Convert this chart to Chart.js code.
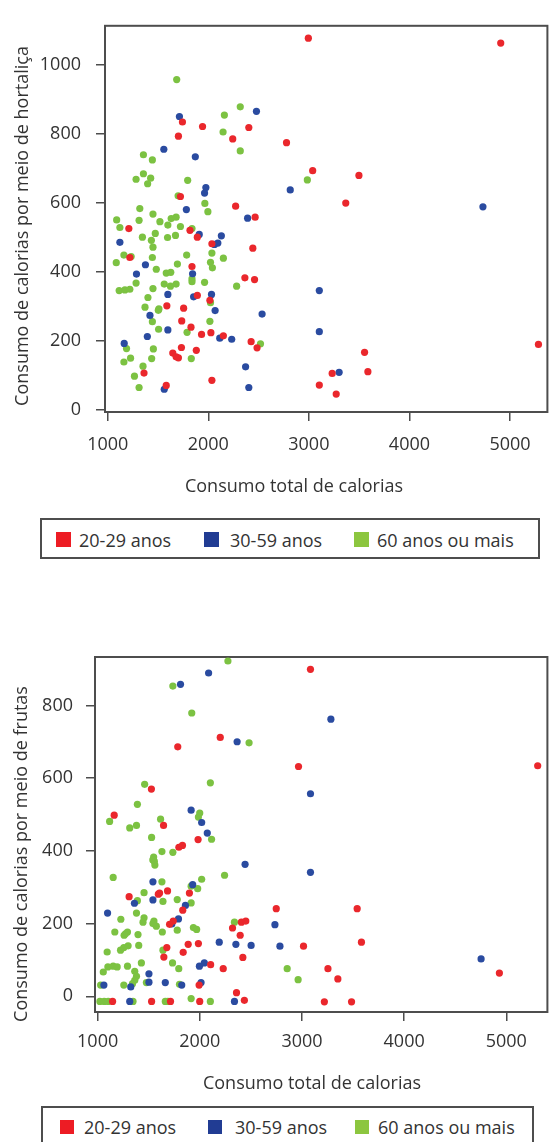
<!DOCTYPE html>
<html lang="pt">
<head>
<meta charset="utf-8">
<title>Consumo de calorias</title>
<script src="https://cdn.jsdelivr.net/npm/chart.js@4.4.1/dist/chart.umd.min.js"></script>
<style>
  html, body { margin: 0; padding: 0; background: #fff; }
  body {
    position: relative;
    width: 551px;
    height: 1142px;
    overflow: hidden;
    font-family: 'Open Sans', sans-serif;
    color: #333;
  }
  canvas { position: absolute; left: 0; }
  #hortChart { top: 0; }
  #frutChart { top: 600px; }
  .legend { position: absolute; border: 2px solid #4d4d4d; box-sizing: border-box; }
  .key { position: absolute; }
  .lbl { position: absolute; font-size: 18px; line-height: 22px; white-space: nowrap; }
</style>
</head>
<body>
<canvas id="hortChart" width="551" height="500"></canvas>
<canvas id="frutChart" width="551" height="500"></canvas>

<script>
// calorie consumption scatter plots (hortaliças / frutas) by age group

// AGE GROUPS
const categories = ['20-29 anos', '30-59 anos', '60 anos ou mais'];

// AXIS TICKS
const xTicks = [1000, 2000, 3000, 4000, 5000];
const yTicksHort = [0, 200, 400, 600, 800, 1000];
const yTicksFrut = [0, 200, 400, 600, 800];

// CHART 1 - HORTALIÇAS  [total calories, calories from vegetables]
const hortYoung = [
  [1743, 834], [1703, 793], [1943, 821], [2243, 785], [2403, 818], [1723, 618], [2272, 590], [2466, 558],
  [2995, 1077], [4908, 1063], [2778, 774], [3038, 693], [3498, 679], [3367, 599],
  [3554, 166], [3587, 110], [3232, 105], [3104, 71], [3272, 45], [5283, 189],
  [1210, 525], [1818, 520], [1891, 500], [2036, 481], [2443, 468], [1220, 441], [1838, 415], [1891, 331],
  [2016, 317], [2364, 382], [2460, 377], [1588, 301], [1755, 294], [1736, 257], [1828, 239], [1933, 218],
  [2026, 223], [2150, 214], [2426, 197], [2485, 179], [1647, 164], [1680, 153], [1703, 150], [1733, 180],
  [1881, 172], [1361, 106], [1582, 70], [2036, 85]
];
const hortAdult = [
  [1713, 850], [2479, 865], [1558, 755], [1871, 733], [1976, 644], [1963, 628], [1782, 580], [2391, 555],
  [2815, 637], [4731, 588], [3104, 345], [3104, 226], [3301, 108],
  [1910, 508], [2061, 479], [2095, 483], [2130, 504], [1121, 485], [1375, 420], [1844, 394], [1286, 393],
  [1598, 334], [1854, 327], [2032, 334], [2535, 277], [1420, 273], [2068, 287], [1598, 231], [2114, 207],
  [2233, 204], [1164, 192], [1394, 212], [1562, 59], [2371, 124], [2403, 64]
];
const hortSenior = [
  [1686, 957], [2160, 854], [2318, 878], [2147, 805], [2318, 750], [1355, 739], [1444, 724], [1282, 668],
  [1355, 684], [1427, 671], [1397, 655], [1795, 665], [1700, 620], [1966, 598], [1996, 574], [1319, 583],
  [1450, 567], [2985, 666], [1089, 550], [1121, 528], [1312, 549], [1519, 545], [1631, 554], [1680, 558],
  [1598, 535], [1723, 531], [1838, 525], [1345, 500], [1434, 491], [1450, 471], [1473, 511], [1595, 499],
  [1674, 505], [1161, 448], [1233, 444], [1085, 426], [1444, 441], [1483, 407], [1693, 422], [1785, 448],
  [1838, 379], [1838, 371], [2036, 454], [2022, 427], [2041, 411], [2150, 439], [1282, 367], [1114, 345],
  [1171, 347], [1220, 349], [1450, 351], [1582, 396], [1627, 398], [1562, 364], [1624, 358], [1680, 364],
  [2022, 310], [1963, 369], [2282, 358], [1400, 325], [1371, 297], [1509, 292], [1503, 288], [1444, 255],
  [1506, 233], [1789, 224], [2016, 256], [2519, 191], [1187, 177], [1454, 176], [1831, 148], [1161, 138],
  [1227, 149], [1437, 148], [1351, 126], [1266, 97], [1312, 64]
];

// CHART 2 - FRUTAS  [total calories, calories from fruit]
const frutYoung = [
  [2200, 712], [1784, 686], [1526, 570], [1162, 498], [1645, 470], [3083, 899], [2966, 632], [5307, 634],
  [2748, 241], [3540, 241], [3015, 138], [3582, 149], [3254, 76], [3351, 48], [3219, -15], [3485, -15],
  [4932, 64], [1983, 431], [1795, 410], [1830, 415], [1684, 290], [1606, 284], [1594, 281], [1308, 274],
  [1898, 284], [1833, 237], [1740, 207], [1704, 198], [1677, 134], [1648, 108], [1837, 121], [1886, 143],
  [1986, 145], [2320, 188], [2407, 204], [2450, 207], [2395, 168], [2421, 107], [2229, 76], [2106, 87],
  [1993, 31], [2359, 10], [1146, -14], [1528, -14], [1713, -14], [1999, -14], [2436, -11]
];
const frutAdult = [
  [2086, 889], [1811, 858], [2365, 700], [1915, 512], [2018, 478], [2073, 449], [3283, 762], [3083, 557],
  [3083, 341], [2735, 197], [2784, 138], [4753, 103], [2443, 363], [1541, 315], [1930, 307], [1360, 256],
  [1541, 265], [1859, 250], [1097, 229], [1791, 213], [1726, 199], [2190, 149], [2353, 143], [2502, 140],
  [2044, 92], [1996, 83], [1502, 62], [1502, 39], [1662, 38], [1823, 31], [2012, 38], [1061, 31],
  [1324, 26], [1314, -14], [2339, -14]
];
const frutSenior = [
  [2275, 922], [1736, 853], [1921, 779], [2482, 697], [2103, 587], [1460, 583], [1389, 528], [1117, 481],
  [1314, 463], [1380, 470], [1616, 487], [1999, 504], [1986, 493], [1528, 437], [2115, 432], [1736, 396],
  [1629, 398], [1548, 383], [1555, 371], [1560, 361], [1540, 375], [2242, 333], [1152, 327], [1629, 315],
  [2018, 322], [1915, 303], [1979, 296], [1454, 285], [1389, 263], [1639, 261], [1779, 266], [1915, 257],
  [1380, 229], [1227, 212], [1454, 216], [1444, 204], [1551, 207], [1574, 193], [1541, 200], [1168, 177],
  [1272, 172], [1292, 177], [1259, 168], [1395, 170], [1633, 177], [1779, 182], [1937, 189], [1969, 184],
  [2339, 204], [1093, 122], [1224, 127], [1256, 134], [1298, 139], [1402, 140], [1639, 127], [1733, 92],
  [1794, 76], [1055, 67], [1100, 81], [1152, 83], [1191, 81], [1292, 83], [1428, 92], [1363, 69],
  [1380, 55], [1363, 44], [1341, 35], [1801, 33], [1029, 31], [1256, 31], [1477, 38], [2855, 76],
  [2962, 46], [1022, -14], [1064, -14], [1103, -14], [1346, -14], [1662, -14], [1687, -14], [1915, -6],
  [2103, -14]
];

// COLOURS
const pointColors = ['#ea272c', '#2a4ba0', '#7cc242'];
const keyColors = ['#ed1c24', '#213c93', '#8cc63f'];
const TEXT_COLOR = '#333333';
const AXIS_COLOR = '#4d4d4d';
const FONT = { family: "'Open Sans', sans-serif", size: 18 };


// BOX AROUND THE PLOT AREA
const framePlugin = {
  id: 'frame',
  beforeDatasetsDraw(chart) {
    const { ctx, chartArea: a } = chart;
    ctx.save();
    ctx.strokeStyle = AXIS_COLOR;
    ctx.lineWidth = 2;
    ctx.strokeRect(a.left, a.top, a.right - a.left, a.bottom - a.top);
    ctx.restore();
  }
};

// AXIS TITLES (drawn where the original puts them)
const titlePlugin = {
  id: 'axisTitles',
  afterDraw(chart, args, opts) {
    const ctx = chart.ctx;
    ctx.save();
    ctx.font = "18px 'Open Sans', sans-serif";
    ctx.fillStyle = TEXT_COLOR;
    ctx.textAlign = 'center';
    ctx.textBaseline = 'alphabetic';
    ctx.fillText(opts.xText, opts.xPos[0], opts.xPos[1]);
    ctx.translate(opts.yPos[0], opts.yPos[1]);
    ctx.rotate(-Math.PI / 2);
    ctx.fillText(opts.yText, 0, 0);
    ctx.restore();
  }
};


// BUILD ONE SCATTER CHART
function buildScatter(id, groups, cfg) {
  const ctx = document.getElementById(id);

  const datasets = groups.map((pts, i) => ({
    label: categories[i],
    data: pts.map(p => ({ x: p[0], y: p[1] })),
    backgroundColor: pointColors[i],
    borderWidth: 0,
    pointRadius: 3.6,
    pointHoverRadius: 3.6
  }));

  const tickGrid = {
    drawOnChartArea: false,
    drawTicks: true,
    tickLength: 9,
    color: AXIS_COLOR,
    lineWidth: 1.5
  };

  // plain numbers, no thousands separator
  const plain = (v) => String(v);

  return new Chart(ctx, {
    type: 'scatter',
    data: { datasets },
    options: {
      responsive: false,
      animation: false,
      layout: { padding: { top: cfg.padTop, right: cfg.padRight, left: 0, bottom: 0 } },
      scales: {
        x: {
          type: 'linear',
          min: cfg.xMin,
          max: cfg.xMax,
          border: { display: false },
          grid: tickGrid,
          afterBuildTicks: (s) => { s.ticks = xTicks.map(v => ({ value: v })); },
          afterFit: (s) => { s.height = cfg.xHeight; },
          ticks: {
            font: FONT, color: TEXT_COLOR, padding: cfg.xPad,
            maxRotation: 0, autoSkip: false, callback: plain
          }
        },
        y: {
          type: 'linear',
          min: cfg.yMin,
          max: cfg.yMax,
          border: { display: false },
          grid: tickGrid,
          afterBuildTicks: (s) => { s.ticks = cfg.yTicks.map(v => ({ value: v })); },
          afterFit: (s) => { s.width = cfg.yWidth; },
          ticks: { font: FONT, color: TEXT_COLOR, padding: cfg.yPad, callback: plain }
        }
      },
      plugins: {
        legend: { display: false },
        tooltip: { enabled: false },
        axisTitles: {
          xText: 'Consumo total de calorias',
          yText: cfg.yText,
          xPos: cfg.xTitlePos,
          yPos: cfg.yTitlePos
        }
      }
    },
    plugins: [framePlugin, titlePlugin]
  });
}


// HTML LEGEND WITH A BOX
function buildLegend(box, keys) {
  const div = document.createElement('div');
  div.className = 'legend';
  div.style.left = box.left + 'px';
  div.style.top = box.top + 'px';
  div.style.width = box.width + 'px';
  div.style.height = box.height + 'px';
  document.body.appendChild(div);

  categories.forEach((name, i) => {
    const sq = document.createElement('div');
    sq.className = 'key';
    sq.style.left = keys.keyLeft[i] + 'px';
    sq.style.top = keys.keyTop + 'px';
    sq.style.width = keys.size + 'px';
    sq.style.height = keys.size + 'px';
    sq.style.background = keyColors[i];
    document.body.appendChild(sq);

    const lbl = document.createElement('div');
    lbl.className = 'lbl';
    lbl.textContent = name;
    lbl.style.left = keys.textLeft[i] + 'px';
    lbl.style.top = keys.textTop + 'px';
    document.body.appendChild(lbl);
  });
}


function init() {
  buildScatter('hortChart', [hortYoung, hortAdult, hortSenior], {
    xMin: 973, xMax: 5372, yMin: -7, yMax: 1113,
    yTicks: yTicksHort,
    padTop: 16, padRight: 0, xHeight: 88, yWidth: 105,
    xPad: 13, yPad: 15,
    yText: 'Consumo de calorias por meio de hortaliça',
    xTitlePos: [294, 492], yTitlePos: [27.5, 226]
  });

  buildScatter('frutChart', [frutYoung, frutAdult, frutSenior], {
    xMin: 974, xMax: 5402, yMin: -43, yMax: 933,
    yTicks: yTicksFrut,
    padTop: 57, padRight: 1, xHeight: 88, yWidth: 95,
    xPad: 10.5, yPad: 13,
    yText: 'Consumo de calorias por meio de frutas',
    xTitlePos: [312, 489], yTitlePos: [26.5, 254]
  });

  buildLegend({ left: 40, top: 518, width: 500, height: 41 },
    { keyLeft: [56, 204, 354], keyTop: 532, size: 15, textLeft: [79, 230, 377], textTop: 529 });
  buildLegend({ left: 41, top: 1106, width: 493, height: 50 },
    { keyLeft: [60, 208, 355], keyTop: 1120, size: 14, textLeft: [84, 235, 378], textTop: 1116 });
}

document.addEventListener('DOMContentLoaded', init);
</script>
</body>
</html>
